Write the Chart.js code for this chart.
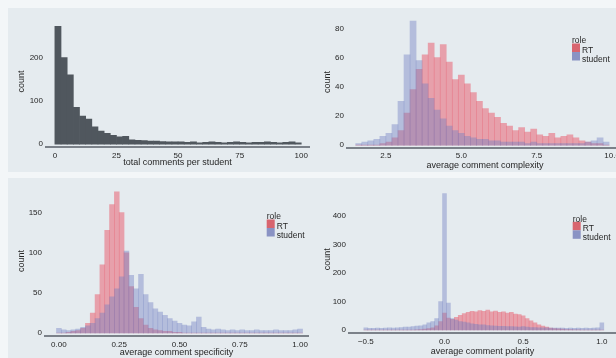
<!DOCTYPE html>
<html>
<head>
<meta charset="utf-8">
<script src="https://cdn.jsdelivr.net/npm/chart.js@4.4.1/dist/chart.umd.min.js"></script>
<style>
html,body{margin:0;padding:0;width:616px;height:358px;overflow:hidden;background:#f3f6f8;}
canvas{position:absolute;display:block;}
</style>
</head>
<body>
<canvas id="c1" width="304" height="164" style="left:8px;top:8px"></canvas>
<canvas id="c2" width="320" height="164" style="left:312px;top:8px"></canvas>
<canvas id="c3" width="304" height="180" style="left:8px;top:178px"></canvas>
<canvas id="c4" width="310" height="180" style="left:312px;top:178px"></canvas>
<script>
// ---------- data ----------
const roleNames = ["RT", "student"];
const legendTitle = "role";
const yTitle = "count";

// total comments per student (bin centres, width 2.5)
const commentBins = [1.25,3.75,6.25,8.75,11.25,13.75,16.25,18.75,21.25,23.75,26.25,28.75,31.25,33.75,36.25,38.75,41.25,43.75,46.25,48.75,51.25,53.75,56.25,58.75,61.25,63.75,66.25,68.75,71.25,73.75,76.25,78.75,81.25,83.75,86.25,88.75,91.25,93.75,96.25,98.75];
const commentCounts = [272,200,160,85,65,58,40,30,25,20,17,18,10,9,8,7,7,6,5,5,5,4,5,3,4,5,4,3,4,5,4,3,4,4,5,4,3,4,5,3];
const commentXTicks = [0,25,50,75,100];
const commentXLabels = ["0","25","50","75","100"];
const commentYTicks = [0,100,200];

// average comment complexity (bin centres, width 0.2)
const complexityBins = [1.6,1.8,2.0,2.2,2.4,2.6,2.8,3.0,3.2,3.4,3.6,3.8,4.0,4.2,4.4,4.6,4.8,5.0,5.2,5.4,5.6,5.8,6.0,6.2,6.4,6.6,6.8,7.0,7.2,7.4,7.6,7.8,8.0,8.2,8.4,8.6,8.8,9.0,9.2,9.4,9.6,9.8];
const complexityRT = [0,0,0,0,1,2,5,10,22,38,52,62,70,60,69,57,45,48,42,36,30,25,22,19,15,13,10,12,9,11,7,6,8,5,6,7,5,3,2,1,1,0];
const complexityStudent = [1,2,3,4,6,8,14,30,62,85,58,42,32,24,18,13,10,8,6,5,4,4,3,3,2,2,2,2,1,2,1,1,1,1,1,1,1,1,2,3,5,2];
const complexityXTicks = [2.5,5,7.5,10];
const complexityXLabels = ["2.5","5.0","7.5","10.0"];
const complexityYTicks = [0,20,40,60,80];

// average comment specificity (bin centres, width 0.02)
const specificityBins = [0,0.02,0.04,0.06,0.08,0.10,0.12,0.14,0.16,0.18,0.20,0.22,0.24,0.26,0.28,0.30,0.32,0.34,0.36,0.38,0.40,0.42,0.44,0.46,0.48,0.50,0.52,0.54,0.56,0.58,0.60,0.62,0.64,0.66,0.68,0.70,0.72,0.74,0.76,0.78,0.80,0.82,0.84,0.86,0.88,0.90,0.92,0.94,0.96,0.98,1.00];
const specificityRT = [0,0,1,2,3,6,12,25,48,85,128,160,176,150,100,58,32,18,10,6,4,3,2,2,1,1,0,0,0,0,0,0,0,0,0,0,0,0,0,0,0,0,0,0,0,0,0,0,0,0,0];
const specificityStudent = [6,4,3,4,5,7,9,12,18,25,35,45,55,70,102,72,55,73,48,38,30,26,22,18,15,12,10,9,14,20,7,5,4,5,4,3,4,3,4,3,3,4,3,3,3,4,3,3,3,4,5];
const specificityXTicks = [0,0.25,0.5,0.75,1];
const specificityXLabels = ["0.00","0.25","0.50","0.75","1.00"];
const specificityYTicks = [0,50,100,150];

// average comment polarity (bin centres, width 0.025)
const polarityBins = [-0.5,-0.475,-0.45,-0.425,-0.4,-0.375,-0.35,-0.325,-0.3,-0.275,-0.25,-0.225,-0.2,-0.175,-0.15,-0.125,-0.1,-0.075,-0.05,-0.025,0,0.025,0.05,0.075,0.1,0.125,0.15,0.175,0.2,0.225,0.25,0.275,0.3,0.325,0.35,0.375,0.4,0.425,0.45,0.475,0.5,0.525,0.55,0.575,0.6,0.625,0.65,0.675,0.7,0.725,0.75,0.775,0.8,0.825,0.85,0.875,0.9,0.925,0.95,0.975,1.0];
const polarityRT = [0,0,0,0,0,0,0,0,0,0, 0,0,0,1,2,3,5,8,15,30, 60,42,38,45,52,58,62,66,64,68, 66,70,64,67,62,64,60,62,56,54, 50,40,32,25,18,14,10,7,5,4, 3,2,2,1,1,0,0,0,0,0, 0];
const polarityStudent = [8,6,6,7,6,7,8,7,8,9, 10,10,12,14,15,18,25,30,40,100, 480,95,40,35,30,28,25,22,20,18, 18,16,15,14,13,13,12,12,11,10, 12,10,9,9,8,8,8,7,7,7, 7,6,7,6,7,6,7,6,7,8, 25];
const polarityXTicks = [-0.5,0,0.5,1];
const polarityXLabels = ["\u22120.5","0.0","0.5","1.0"];
const polarityYTicks = [0,100,200,300,400];

// ---------- styles ----------
const FONT = "'Liberation Sans', Arial, Helvetica, sans-serif";
const TXT = '#262626';
const PANEL_BG = '#e5ebef';
const AXIS_LINE = '#7b8189';
const RT_COLOR = 'rgba(232,92,110,0.52)';
const STUDENT_COLOR = 'rgba(112,126,192,0.42)';
const ALL_COLOR = '#50575e';
const roleSwatch = ['#d8656f', '#8a93c4'];

const panelBg = {
  id: 'panelBg',
  beforeDraw(chart) {
    const c = chart.ctx;
    c.save();
    c.fillStyle = PANEL_BG;
    c.fillRect(0, 0, chart.width, chart.height);
    c.restore();
  }
};

const roleLegend = {
  id: 'roleLegend',
  afterDraw(chart, args, opts) {
    if (!opts || !opts.show) return;
    const c = chart.ctx;
    const x = opts.x, y = opts.y;
    c.save();
    c.fillStyle = roleSwatch[0];
    c.fillRect(x, y + 2.5, 8, 8.5);
    c.fillStyle = roleSwatch[1];
    c.fillRect(x, y + 11, 8, 8.5);
    c.font = '8.5px ' + FONT;
    c.fillStyle = TXT;
    c.textBaseline = 'middle';
    c.textAlign = 'left';
    c.fillText(legendTitle, x, y);
    roleNames.forEach((name, i) => {
      c.fillText(name, x + 10, y + 9.7 + i * 8.6);
    });
    c.restore();
  }
};

function histChart(id, o) {
  return new Chart(document.getElementById(id), {
    type: 'bar',
    data: {
      labels: o.bins,
      datasets: o.series.map(s => ({
        label: s.name, data: s.values, backgroundColor: s.color,
        borderWidth: 0, grouped: false, categoryPercentage: 1, barPercentage: 1
      }))
    },
    options: {
      responsive: false, animation: false, devicePixelRatio: 1,
      layout: { padding: o.pad },
      plugins: {
        legend: { display: false }, tooltip: { enabled: false },
        roleLegend: o.legend || { show: false }
      },
      scales: {
        x: {
          type: 'linear', offset: false, min: o.xMin, max: o.xMax,
          grid: { display: false, drawTicks: false },
          border: { display: true, color: AXIS_LINE, width: 2 },
          afterBuildTicks: s => { s.ticks = o.xTicks.map(v => ({ value: v })); },
          afterFit: s => { s.height = o.xAxisH; },
          ticks: {
            autoSkip: false, maxRotation: 0, minRotation: 0, padding: o.xTickPad,
            color: TXT, font: { family: FONT, size: 8 },
            callback: (v, i) => o.xLabels[i]
          },
          title: { display: true, text: o.xTitle, color: TXT, font: { family: FONT, size: 9 },
                   padding: { top: 0, bottom: o.xTitlePad } }
        },
        y: {
          min: o.yMin, max: o.yMax,
          grid: { display: false, drawTicks: false },
          border: { display: false },
          afterBuildTicks: s => { s.ticks = o.yTicks.map(v => ({ value: v })); },
          afterFit: s => { s.width = o.yAxisW; },
          ticks: { autoSkip: false, padding: 3, color: TXT, font: { family: FONT, size: 8 },
                   callback: v => String(v) },
          title: { display: true, text: yTitle, color: TXT, font: { family: FONT, size: 9 },
                   padding: { top: o.yTitlePad, bottom: 0 } }
        }
      }
    },
    plugins: [panelBg, roleLegend]
  });
}

histChart('c1', {
  bins: commentBins,
  series: [{ name: 'count', values: commentCounts, color: ALL_COLOR }],
  xMin: -3.6, xMax: 103.2, yMin: -6.7, yMax: 296.6,
  xTicks: commentXTicks, xLabels: commentXLabels, yTicks: commentYTicks,
  xTitle: 'total comments per student',
  pad: { left: 0, right: 2, top: 4, bottom: 0 },
  yAxisW: 38, xAxisH: 25, xTickPad: 4, xTitlePad: 3.6, yTitlePad: 8.6
});

histChart('c2', {
  bins: complexityBins,
  series: [
    { name: roleNames[1], values: complexityStudent, color: STUDENT_COLOR },
    { name: roleNames[0], values: complexityRT, color: RT_COLOR }
  ],
  xMin: 1.21, xMax: 10.36, yMin: -2, yMax: 88.7,
  xTicks: complexityXTicks, xLabels: complexityXLabels, yTicks: complexityYTicks,
  xTitle: 'average comment complexity',
  pad: { left: 0, right: 9, top: 4, bottom: 0 },
  yAxisW: 35, xAxisH: 24, xTickPad: 2.5, xTitlePad: 0.6, yTitlePad: 10.6,
  legend: { show: true, x: 260, y: 33 }
});

histChart('c3', {
  bins: specificityBins,
  series: [
    { name: roleNames[1], values: specificityStudent, color: STUDENT_COLOR },
    { name: roleNames[0], values: specificityRT, color: RT_COLOR }
  ],
  xMin: -0.0576, xMax: 1.033, yMin: -3.7, yMax: 183.4,
  xTicks: specificityXTicks, xLabels: specificityXLabels, yTicks: specificityYTicks,
  xTitle: 'average comment specificity',
  pad: { left: 0, right: 2, top: 7, bottom: 0 },
  yAxisW: 37, xAxisH: 22, xTickPad: 4, xTitlePad: 0, yTitlePad: 8.6,
  legend: { show: true, x: 258.7, y: 39 }
});

histChart('c4', {
  bins: polarityBins,
  series: [
    { name: roleNames[1], values: polarityStudent, color: STUDENT_COLOR },
    { name: roleNames[0], values: polarityRT, color: RT_COLOR }
  ],
  xMin: -0.607, xMax: 1.09, yMin: -8.7, yMax: 507,
  xTicks: polarityXTicks, xLabels: polarityXLabels, yTicks: polarityYTicks,
  xTitle: 'average comment polarity',
  pad: { left: 0, right: 6, top: 7, bottom: 0 },
  yAxisW: 37, xAxisH: 25.5, xTickPad: 4.7, xTitlePad: 0.6, yTitlePad: 10.6,
  legend: { show: true, x: 260.7, y: 41.3 }
});
</script>
</body>
</html>
